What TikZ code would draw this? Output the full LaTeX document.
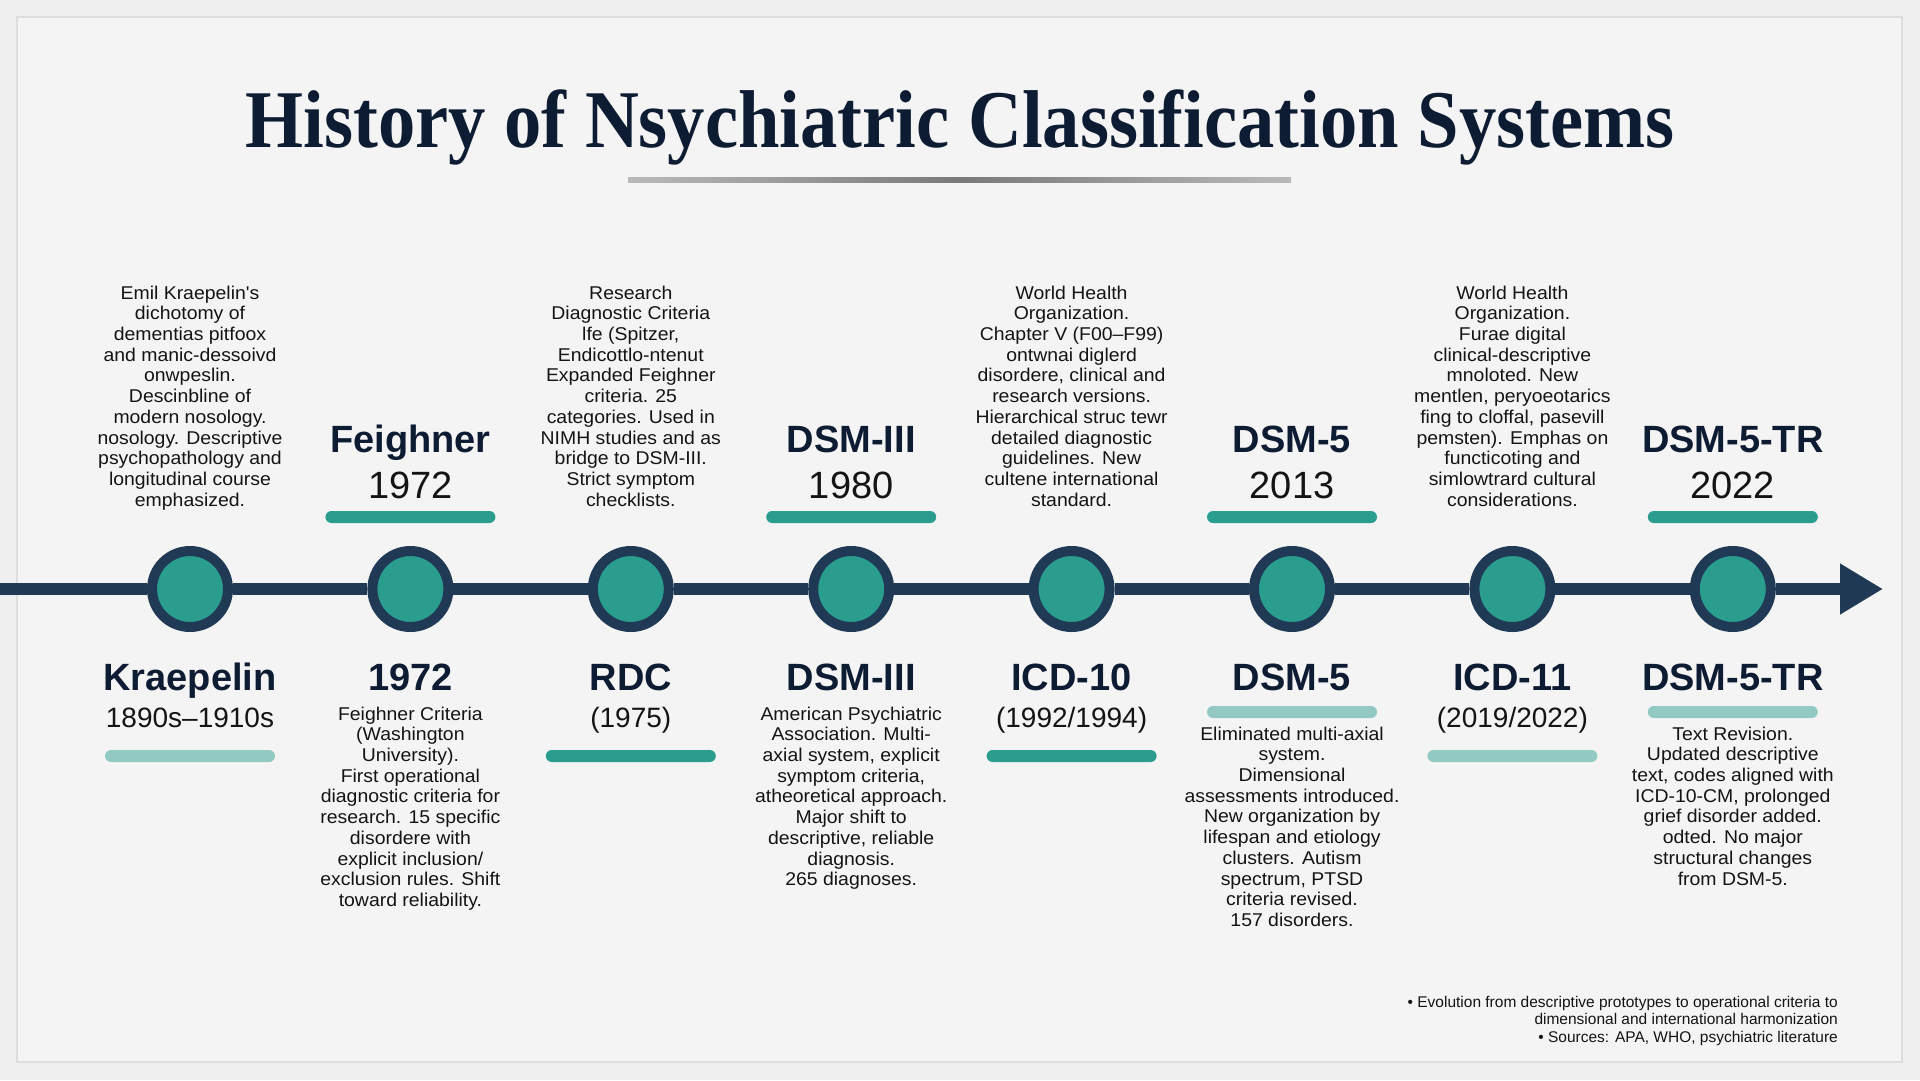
\documentclass[tikz,border=0pt]{standalone}
\usepackage{fontspec}
\setmainfont{Liberation Sans}
\newfontfamily\titlefont{Liberation Serif}
\newfontfamily\bodyfont[FakeStretch=1.05]{Liberation Sans}
\usetikzlibrary{arrows.meta}
\definecolor{navy}{HTML}{203A55}
\definecolor{tealc}{HTML}{2A9D8F}
\definecolor{lteal}{HTML}{93C9C3}
\definecolor{inkc}{HTML}{0E1C33}
\definecolor{bodyc}{HTML}{141414}
\definecolor{bgout}{HTML}{EFEFEF}
\definecolor{bgin}{HTML}{F4F4F4}
\definecolor{framec}{HTML}{DDDDDD}
\tikzset{
  ring/.style={circle, fill=tealc, draw=navy, line width=10pt, minimum size=76pt, inner sep=0pt},
  head/.style={font=\fontsize{38}{40}\selectfont\bfseries, text=inkc, anchor=base, inner sep=0pt},
  yeartop/.style={font=\fontsize{38}{40}\selectfont, text=bodyc, anchor=base, inner sep=0pt},
  yearbot/.style={font=\fontsize{28}{30}\selectfont, text=bodyc, anchor=base, inner sep=0pt},
  body/.style={font=\bodyfont\fontsize{18.5}{20.7}\selectfont, text=bodyc, align=center, anchor=north, inner sep=0pt},
  darkbar/.style={rectangle, rounded corners=6pt, fill=tealc, minimum width=170pt, minimum height=12pt, inner sep=0pt},
  lightbar/.style={darkbar, fill=lteal},
  axis/.style={draw=navy, line width=12pt}
}
\begin{document}
\begin{tikzpicture}[x=1pt,y=-1pt]
\useasboundingbox (0,0) rectangle (1920,1080);
\fill[bgout] (0,0) rectangle (1920,1080);
\draw[framec, fill=bgin, line width=1.5pt] (17,17) rectangle (1902,1062);

% title
\node[anchor=base, inner sep=0pt, text=inkc] (title) at (960,147)
  {\resizebox{1429pt}{\height}{\fontsize{82}{90}\selectfont\titlefont\bfseries History of Nsychiatric Classification Systems}};
\shade[left color=gray!55, right color=gray!55, middle color=gray!95!black] (628,177.5) rectangle (1291,182.5);

% timeline
\coordinate (start) at (0,589);
\coordinate (tip) at (1883,589);
\node[ring] (c0) at (190,589) {};
\node[ring] (c1) at (410.4,589) {};
\node[ring] (c2) at (630.8,589) {};
\node[ring] (c3) at (851.2,589) {};
\node[ring] (c4) at (1071.6,589) {};
\node[ring] (c5) at (1292,589) {};
\node[ring] (c6) at (1512.4,589) {};
\node[ring] (c7) at (1732.8,589) {};
\draw[axis] (start) -- (c0);
\draw[axis] (c0) -- (c1);
\draw[axis] (c1) -- (c2);
\draw[axis] (c2) -- (c3);
\draw[axis] (c3) -- (c4);
\draw[axis] (c4) -- (c5);
\draw[axis] (c5) -- (c6);
\draw[axis] (c6) -- (c7);
\draw[axis, -{Triangle[length=43pt,width=48pt]}] (c7) -- (tip);

% ---- top texts (even items)
\node[body] (t0) at (190,285.5) {Emil Kraepelin's\\dichotomy of\\dementias pitfoox\\and manic-dessoivd\\onwpeslin.\\Descinbline of\\modern nosology.\\nosology. Descriptive\\psychopathology and\\longitudinal course\\emphasized.};
\node[body] (t2) at (630.8,285.5) {Research\\Diagnostic Criteria\\lfe (Spitzer,\\Endicottlo-ntenut\\Expanded Feighner\\criteria. 25\\categories. Used in\\NIMH studies and as\\bridge to DSM-III.\\Strict symptom\\checklists.};
\node[body] (t4) at (1071.6,285.5) {World Health\\Organization.\\Chapter V (F00–F99)\\ontwnai diglerd\\disordere, clinical and\\research versions.\\Hierarchical struc tewr\\detailed diagnostic\\guidelines. New\\cultene international\\standard.};
\node[body] (t6) at (1512.4,285.5) {World Health\\Organization.\\Furae digital\\clinical-descriptive\\mnoloted. New\\mentlen, peryoeotarics\\fing to cloffal, pasevill\\pemsten). Emphas on\\functicoting and\\simlowtrard cultural\\considerations.};

% ---- top headings (odd items)
\node[head] (h1) at (410.4,452) {Feighner};
\node[yeartop] (y1) at (410.4,498) {1972};
\node[darkbar] (b1) at (410.4,517) {};
\node[head] (h3) at (851.2,452) {DSM-III};
\node[yeartop] (y3) at (851.2,498) {1980};
\node[darkbar] (b3) at (851.2,517) {};
\node[head] (h5) at (1292,452) {DSM-5};
\node[yeartop] (y5) at (1292,498) {2013};
\node[darkbar] (b5) at (1292,517) {};
\node[head] (h7) at (1732.8,452) {DSM-5-TR};
\node[yeartop] (y7) at (1732.8,498) {2022};
\node[darkbar] (b7) at (1732.8,517) {};

% ---- bottom headings (even items)
\node[head] (g0) at (190,690) {Kraepelin};
\node[yearbot] (z0) at (190,727) {1890s–1910s};
\node[lightbar] (d0) at (190,756) {};
\node[head] (g2) at (630.8,690) {RDC};
\node[yearbot] (z2) at (630.8,727) {(1975)};
\node[darkbar] (d2) at (630.8,756) {};
\node[head] (g4) at (1071.6,690) {ICD-10};
\node[yearbot] (z4) at (1071.6,727) {(1992/1994)};
\node[darkbar] (d4) at (1071.6,756) {};
\node[head] (g6) at (1512.4,690) {ICD-11};
\node[yearbot] (z6) at (1512.4,727) {(2019/2022)};
\node[lightbar] (d6) at (1512.4,756) {};

% ---- bottom texts (odd items)
\node[head] (g1) at (410.4,690) {1972};
\node[body] (s1) at (410.4,706.5) {Feighner Criteria\\(Washington\\University).\\First operational\\diagnostic criteria for\\research. 15 specific\\disordere with\\explicit inclusion/\\exclusion rules. Shift\\toward reliability.};
\node[head] (g3) at (851.2,690) {DSM-III};
\node[body] (s3) at (851.2,706.5) {American Psychiatric\\Association. Multi-\\axial system, explicit\\symptom criteria,\\atheoretical approach.\\Major shift to\\descriptive, reliable\\diagnosis.\\265 diagnoses.};
\node[head] (g5) at (1292,690) {DSM-5};
\node[lightbar] (d5) at (1292,712) {};
\node[body] (s5) at (1292,726.5) {Eliminated multi-axial\\system.\\Dimensional\\assessments introduced.\\New organization by\\lifespan and etiology\\clusters. Autism\\spectrum, PTSD\\criteria revised.\\157 disorders.};
\node[head] (g7) at (1732.8,690) {DSM-5-TR};
\node[lightbar] (d7) at (1732.8,712) {};
\node[body] (s7) at (1732.8,726.5) {Text Revision.\\Updated descriptive\\text, codes aligned with\\ICD-10-CM, prolonged\\grief disorder added.\\odted. No major\\structural changes\\from DSM-5.};

% footnote
\node[anchor=north east, align=right, inner sep=0pt, text=bodyc, font=\fontsize{15.5}{17.5}\selectfont] (foot) at (1838,996)
  {• Evolution from descriptive prototypes to operational criteria to\\dimensional and international harmonization\\• Sources: APA, WHO, psychiatric literature};
\end{tikzpicture}
\end{document}
